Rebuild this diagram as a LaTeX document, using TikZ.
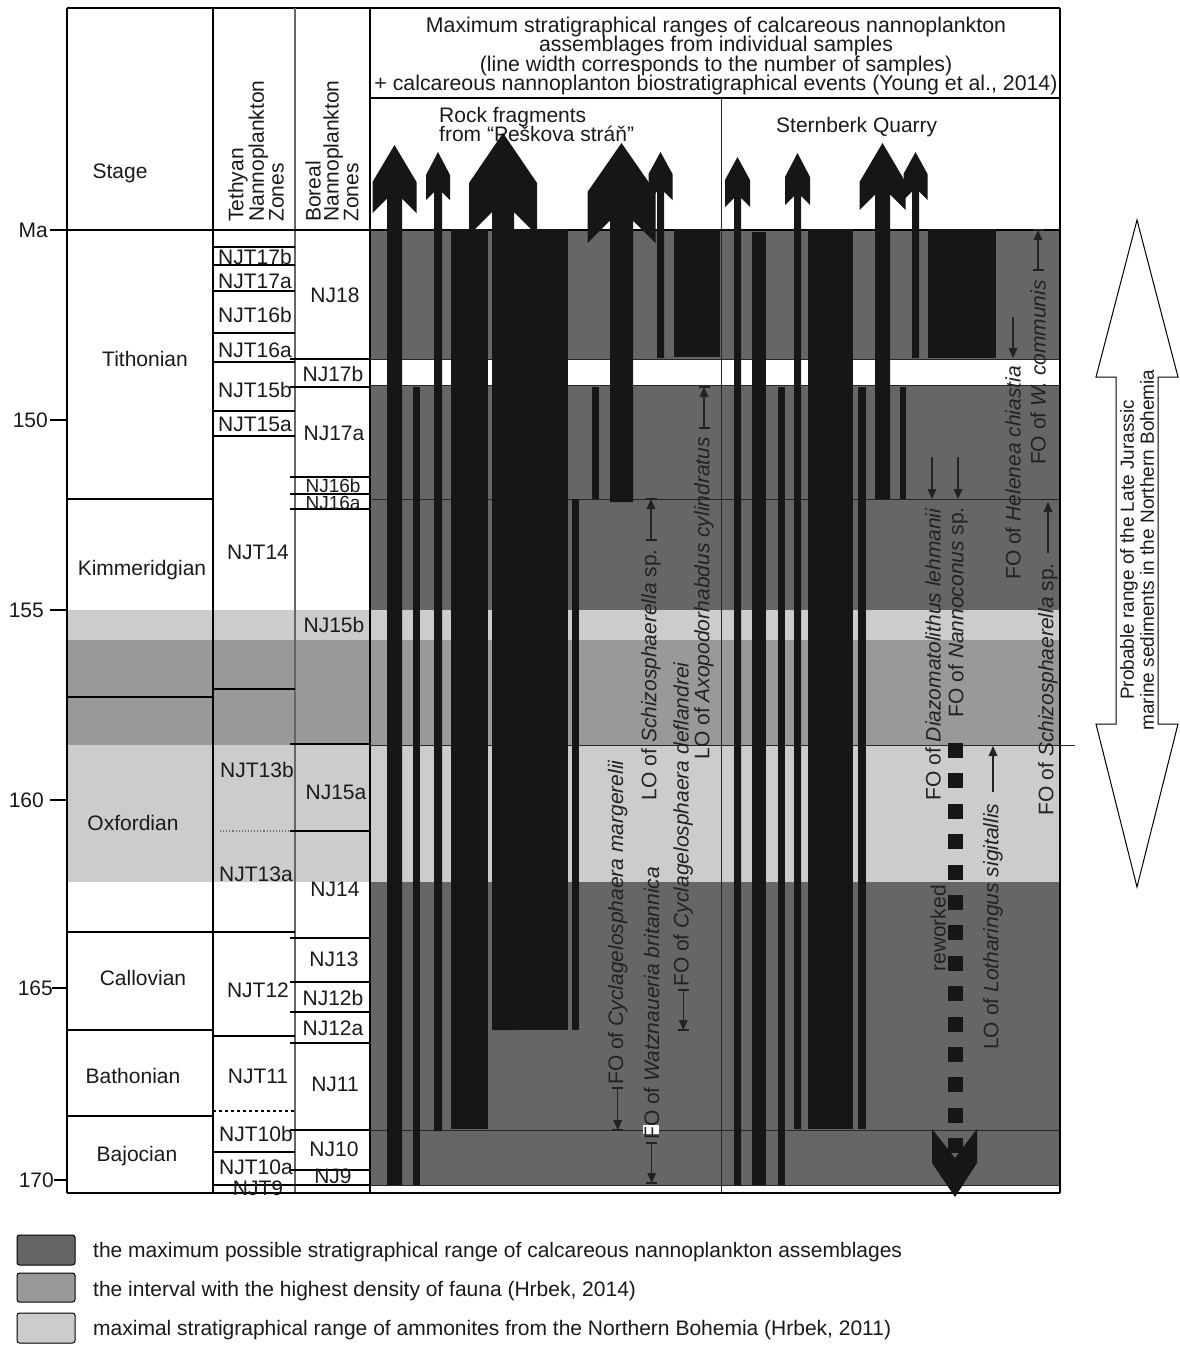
\documentclass[tikz,border=0pt]{standalone}
\usepackage{fontspec}
\setmainfont{Liberation Sans}
\usetikzlibrary{arrows.meta}
\definecolor{dkg}{HTML}{666666}
\definecolor{mdg}{HTML}{999999}
\definecolor{ltg}{HTML}{CCCCCC}
\definecolor{barc}{HTML}{161616}
\definecolor{txtc}{HTML}{1A1A1A}
\definecolor{evc}{HTML}{222222}
\newcommand{\blk}[4]{\fill[barc] (#1,#2) rectangle (#3,#4);}
% cx, tip y, head half width, shaft half width, shoulder y, barb bottom y, shaft bottom y
\newcommand{\arr}[7]{\fill[barc] (#1,#2) -- ({#1+#3},#5) -- ({#1+#3},#6) -- ({#1+#4},{#6-#3+#4}) -- ({#1+#4},#7) -- ({#1-#4},#7) -- ({#1-#4},{#6-#3+#4}) -- ({#1-#3},#6) -- ({#1-#3},#5) -- cycle;}
\newcommand{\tri}[3]{\fill[evc] (#1,#3) -- ({#1-4.5},{#3-10*sign(#3-#2)}) -- ({#1+4.5},{#3-10*sign(#3-#2)}) -- cycle;}
\newcommand{\plainev}[3]{\draw[evarr] (#1,#2) -- (#1,{#3-5*sign(#3-#2)}); \tri{#1}{#2}{#3}}
\newcommand{\ibarev}[3]{\plainev{#1}{#2}{#3}\draw[evarr] ({#1-5.5},#2) -- ({#1+5.5},#2) ({#1-5.5},#3) -- ({#1+5.5},#3);}
\begin{document}
\begin{tikzpicture}[x=1pt,y=-1pt,
  every node/.style={inner sep=0pt, text=txtc, font=\fontsize{21}{19.5}\selectfont},
  ev/.style={rotate=90, text=evc},
  ln/.style={draw=black, line width=1.1pt},
  thn/.style={draw=black!85, line width=0.9pt},
  evarr/.style={draw=evc, line width=1.2pt},
  smallz/.style={font=\fontsize{19}{19}\selectfont},
  lgbox/.style={draw=black, line width=1pt, rounded corners=2.5pt}]
\useasboundingbox (0,0) rectangle (1179,1353);
\fill[white] (0,0) rectangle (1179,1353);
% ---------- bands
\fill[dkg] (370,230) rectangle (1060,1185);
\fill[white] (370,359) rectangle (1060,385);
\fill[ltg] (67,610) rectangle (1060,640);
\fill[mdg] (67,640) rectangle (1060,745);
\fill[ltg] (67,745) rectangle (1060,882);
% ---------- frame
\draw[ln] (67,8) -- (1060,8);
\draw[ln] (67,8) -- (67,1193);
\draw[ln] (213,8) -- (213,1193);
\draw[draw=black!60, line width=1.1pt] (295,8) -- (295,1193);
\draw[ln] (370,8) -- (370,1193);
\draw[ln] (1060,8) -- (1060,1193);
\draw[ln] (67,1193) -- (1060,1193);
\draw[ln] (370,98) -- (1060,98);
\draw[thn] (721,98) -- (721,1193);
\draw[ln] (50,230) -- (1060,230);
% ticks
\foreach \yy in {420,610,800} {\draw[ln] (50,\yy) -- (67,\yy);}
\draw[ln] (52,988) -- (67,988);
\draw[ln] (54,1180) -- (67,1180);
% stage lines
\foreach \yy in {499,697,932,1030,1116} {\draw[ln] (67,\yy) -- (213,\yy);}
% tethyan lines
\foreach \yy in {247,265,291,333,362,411,436,689,932,1036,1152,1185} {\draw[ln] (213,\yy) -- (295,\yy);}
\draw[draw=black!55, line width=1.1pt, dotted] (220,831) -- (290,831);
\draw[ln, dashed] (213,1111) -- (295,1111);
% boreal lines
\foreach \yy in {359,387,477,494,509,744,831,938,982,1012,1043,1130,1170,1185} {\draw[ln] (290,\yy) -- (370,\yy);}
% main area lines
\foreach \yy in {359,385,499,1130,1185} {\draw[thn] (370,\yy) -- (1060,\yy);}
\draw[thn] (370,745) -- (1075,745);
% ---------- axis labels
\node[anchor=east] (ma) at (48,230) {Ma};
\node[anchor=east] (m150) at (48,420) {150};
\node[anchor=east] (m155) at (44,610) {155};
\node[anchor=east] (m160) at (44,800) {160};
\node[anchor=east] (m165) at (53,988) {165};
\node[anchor=east] (m170) at (54,1180) {170};
% ---------- headers
\node (stagehd) at (120,173) {Stage};
\node[rotate=90, anchor=west, align=left, font=\fontsize{21}{18}\selectfont] (tethhd) at (256,222) {Tethyan\\Nannoplankton\\Zones};
\node[rotate=90, anchor=west, align=left, font=\fontsize{21}{18}\selectfont] (borhd) at (332,222) {Boreal\\Nannoplankton\\Zones};
\node[font=\fontsize{21.3}{19.5}\selectfont] (h1) at (716,27) {Maximum stratigraphical ranges of calcareous nannoplankton};
\node[font=\fontsize{21.3}{19.5}\selectfont] (h2) at (716,46) {assemblages from individual samples};
\node[font=\fontsize{21.3}{19.5}\selectfont] (h3) at (716,66) {(line width corresponds to the number of samples)};
\node[font=\fontsize{21.3}{19.5}\selectfont] (h4) at (716,85) {+ calcareous nannoplanton biostratigraphical events (Young et al., 2014)};
\node[anchor=west] (rock1) at (439,117) {Rock fragments};
\node[anchor=west] (rock2) at (439,134) {from “Peškova stráň”};
\node[anchor=west] (stern) at (776,127) {Sternberk Quarry};
% ---------- stages
\node (st1) at (145,359) {Tithonian};
\node (st2) at (142,570) {Kimmeridgian};
\node (st3) at (133,823) {Oxfordian};
\node (st4) at (143,978) {Callovian};
\node (st5) at (133,1076) {Bathonian};
\node (st6) at (137,1156) {Bajocian};
% ---------- tethyan zones
\node (t17b) at (255,257) {NJT17b};
\node (t17a) at (255,281) {NJT17a};
\node (t16b) at (255,315) {NJT16b};
\node (t16a) at (255,350) {NJT16a};
\node (t15b) at (255,390) {NJT15b};
\node (t15a) at (255,424) {NJT15a};
\node (t14) at (258,552) {NJT14};
\node (t13b) at (257,770) {NJT13b};
\node (t13a) at (256,874) {NJT13a};
\node (t12) at (258,990) {NJT12};
\node (t11) at (258,1076) {NJT11};
\node (t10b) at (256,1134) {NJT10b};
\node (t10a) at (256,1167) {NJT10a};
\node (t9) at (258,1188) {NJT9};
% ---------- boreal zones
\node (b18) at (335,295) {NJ18};
\node (b17b) at (333,374) {NJ17b};
\node (b17a) at (334,433) {NJ17a};
\node[smallz] (b16b) at (333,486) {NJ16b};
\node[smallz] (b16a) at (333,503) {NJ16a};
\node (b15b) at (334,625) {NJ15b};
\node (b15a) at (336,792) {NJ15a};
\node (b14) at (335,889) {NJ14};
\node (b13) at (334,959) {NJ13};
\node (b12b) at (333,998) {NJ12b};
\node (b12a) at (333,1028) {NJ12a};
\node (b11) at (335,1084) {NJ11};
\node (b10) at (334,1149) {NJ10};
\node (b9) at (333,1176) {NJ9};
% ---------- Rock fragments bars
\arr{394.5}{145}{22}{7.5}{182}{213}{1185}
\arr{438}{152}{12}{4}{175}{200}{1131}
\arr{503}{133}{34}{11}{183}{235}{1030}
\arr{621.5}{143}{34}{11.5}{192}{243}{502}
\arr{660.5}{152}{12}{3.5}{174}{200}{358}
\blk{412.5}{387}{419.5}{1185}
\blk{451}{229}{488}{1129}
\blk{514}{229}{568}{1030}
\blk{572}{499}{579}{1030}
\blk{592}{387}{599}{499}
\blk{674}{229}{720}{357}
% ---------- Sternberk bars
\arr{737.5}{157}{12.5}{3.5}{180}{207}{1185}
\arr{797.5}{153}{12.5}{3.5}{177}{205}{1129}
\arr{882.5}{143}{23}{7.5}{182}{210}{499}
\arr{915.5}{152}{12}{3.5}{174}{200}{358}
\blk{752}{232}{766}{1185}
\blk{778}{387}{785}{1185}
\blk{808}{229}{853}{1129}
\blk{858}{387}{866}{1129}
\blk{900}{387}{906}{499}
\blk{928}{229}{996}{358}
% reworked dotted line and chevron
\foreach \k in {0,...,13} {\fill[barc] (948,{743+30.4*\k}) rectangle (962.5,{758+30.4*\k});}
\fill[barc] (932,1129) -- (955,1158) -- (977,1129) -- (977,1163) -- (955,1197) -- (932,1163) -- cycle;
% ---------- events, Rock fragments
\fill[white] (643,1125) rectangle (659,1134);
\ibarev{617.7}{1088}{1130}
\node[ev, anchor=west] (e1) at (617.7,1085) {FO of \textit{Cyclagelosphaera margerelii}};
\ibarev{651.7}{1143}{1183}
\node[ev, anchor=west] (e2) at (651.7,1140) {FO of \textit{Watznaueria britannica}};
\ibarev{683.3}{990}{1030}
\node[ev, anchor=west] (e3) at (683.3,987) {FO of \textit{Cyclagelosphaera deflandrei}};
\ibarev{651}{540}{499}
\node[ev, anchor=east] (e4) at (651,549) {LO of \textit{Schizosphaerella} sp.};
\ibarev{704}{428}{387}
\node[ev, anchor=east] (e5) at (704,437) {LO of \textit{Axopodorhabdus cylindratus}};
% ---------- events, Sternberk
\plainev{932}{457}{499}
\node[ev, anchor=east] (e6) at (933,508) {FO of \textit{Diazomatolithus lehmanii}};
\plainev{958}{457}{499}
\node[ev, anchor=east] (e7) at (958,507) {FO of \textit{Nannoconus} sp.};
\plainev{1013}{317}{358}
\node[ev, anchor=east] (e8) at (1013,366) {FO of \textit{Helenea chiastia}};
\ibarev{1038}{270}{230}
\node[ev, anchor=east] (e9) at (1038,280) {FO of \textit{W. communis}};
\plainev{1048}{553}{502}
\node[ev, anchor=east] (e10) at (1048,563) {FO of \textit{Schizosphaerella} sp.};
\plainev{993}{792}{746}
\node[ev, anchor=west] (e11) at (993,1050) {LO of \textit{Lotharingus sigitallis}};
\node[ev, anchor=east] (e12) at (938,885) {reworked};
% ---------- right double arrow
\draw[draw=black, line width=1pt, fill=white] (1137,220) -- (1178,377) -- (1158,377) -- (1158,724) -- (1178,724) -- (1137,887) -- (1096,724) -- (1116,724) -- (1116,377) -- (1096,377) -- cycle;
\node[rotate=90, align=center, font=\fontsize{19}{20}\selectfont] (prob) at (1137,550) {Probable range of the Late Jurassic\\marine sediments in the Northern Bohemia};
% ---------- legend
\draw[lgbox, fill=dkg] (17,1235) rectangle (75,1265);
\draw[lgbox, fill=mdg] (17,1273) rectangle (75,1302);
\draw[lgbox, fill=ltg] (17,1313) rectangle (75,1343);
\node[anchor=west] (lg1) at (93,1252) {the maximum possible stratigraphical range of calcareous nannoplankton assemblages};
\node[anchor=west] (lg2) at (93,1291) {the interval with the highest density of fauna (Hrbek, 2014)};
\node[anchor=west] (lg3) at (93,1330) {maximal stratigraphical range of ammonites from the Northern Bohemia (Hrbek, 2011)};
\end{tikzpicture}
\end{document}
